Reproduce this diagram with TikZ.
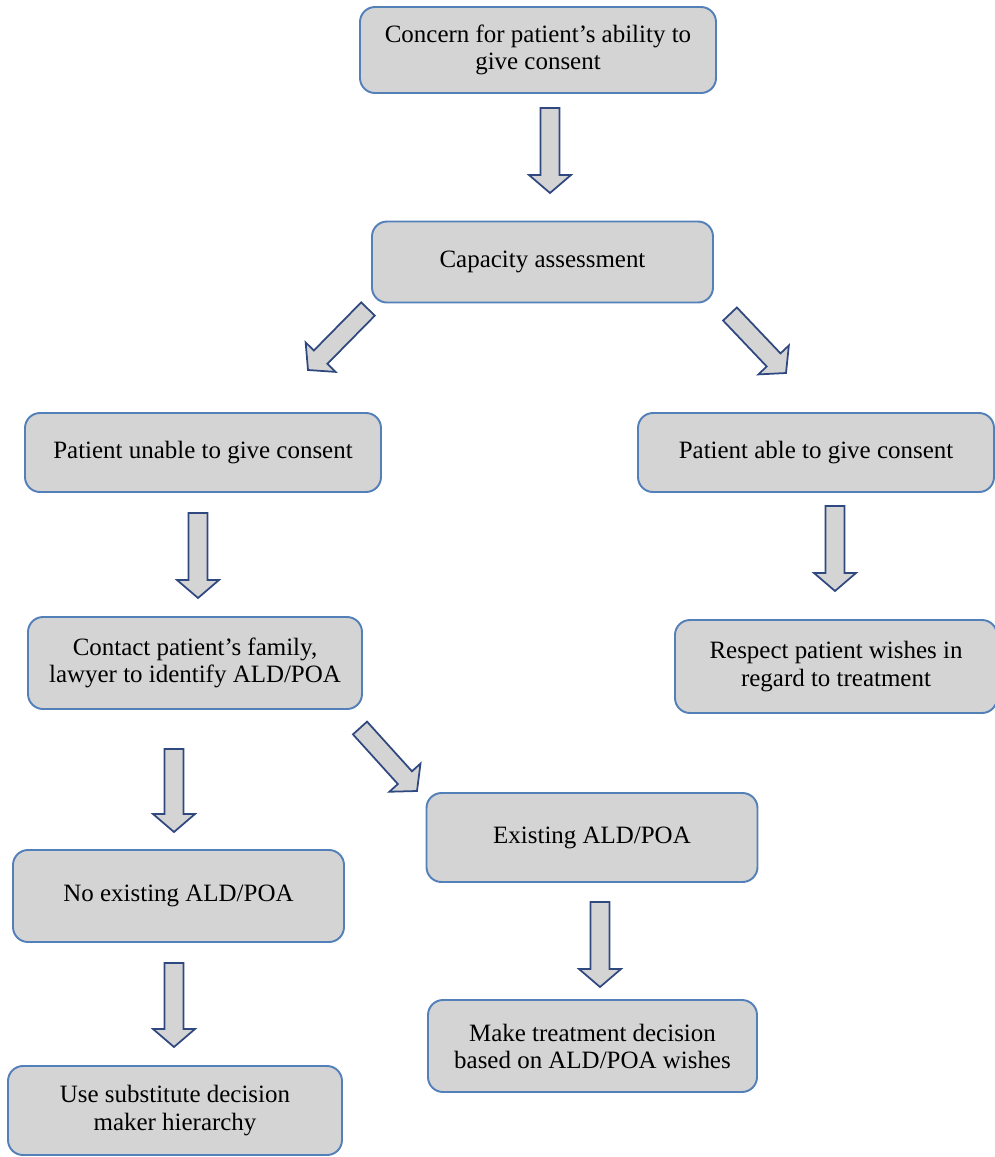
\documentclass[tikz,border=0pt]{standalone}
\usepackage{fontspec}
\setmainfont{Liberation Serif}
\usetikzlibrary{calc}

\definecolor{boxline}{RGB}{84,128,186}
\definecolor{boxfill}{RGB}{212,212,212}
\definecolor{arrline}{RGB}{48,72,128}

% block arrow from #1 (tail) to #2 (tip)
\newcommand{\blockarr}[2]{%
  \draw[barrow] let \p1=($(#2)-(#1)$), \n1={atan2(\y1,\x1)} in
    ($(#1)+({\n1+90}:0.19)$) -- ($(#2)+({\n1+180}:0.36)+({\n1+90}:0.19)$)
    -- ($(#2)+({\n1+180}:0.36)+({\n1+90}:0.42)$) -- (#2)
    -- ($(#2)+({\n1+180}:0.36)+({\n1-90}:0.42)$)
    -- ($(#2)+({\n1+180}:0.36)+({\n1-90}:0.19)$)
    -- ($(#1)+({\n1-90}:0.19)$) -- cycle;}

\begin{document}
\begin{tikzpicture}[
    stepbox/.style={draw=boxline, fill=boxfill, line width=1.1pt, rounded corners=0.3cm,
                    align=center, inner sep=0pt, font=\fontsize{14.2}{15.4}\selectfont},
    barrow/.style={draw=arrline, fill=boxfill, line width=1pt, line join=miter}
  ]
  \useasboundingbox (0,0) rectangle (19.9,-23.14);

  % boxes
  \node[stepbox, minimum width=7.12cm, minimum height=1.72cm] (concern) at (10.76,-1.0)
       {Concern for patient’s ability to\\give consent};
  \node[stepbox, minimum width=6.82cm, minimum height=1.62cm] (capacity) at (10.85,-5.24)
       {Capacity assessment};
  \node[stepbox, minimum width=7.12cm, minimum height=1.58cm] (unable) at (4.06,-9.05)
       {Patient unable to give consent};
  \node[stepbox, minimum width=7.12cm, minimum height=1.58cm] (able) at (16.32,-9.05)
       {Patient able to give consent};
  \node[stepbox, minimum width=6.68cm, minimum height=1.84cm] (contact) at (3.9,-13.26)
       {Contact patient’s family,\\lawyer to identify ALD/POA};
  \node[stepbox, minimum width=6.44cm, minimum height=1.86cm] (respect) at (16.72,-13.33)
       {Respect patient wishes in\\regard to treatment};
  \node[stepbox, minimum width=6.62cm, minimum height=1.78cm] (existing) at (11.84,-16.75)
       {Existing ALD/POA};
  \node[stepbox, minimum width=6.62cm, minimum height=1.84cm] (noexist) at (3.57,-17.92)
       {No existing ALD/POA};
  \node[stepbox, minimum width=6.58cm, minimum height=1.84cm] (make) at (11.85,-20.92)
       {Make treatment decision\\based on ALD/POA wishes};
  \node[stepbox, minimum width=6.68cm, minimum height=1.78cm] (use) at (3.5,-22.21)
       {Use substitute decision\\maker hierarchy};

  % arrow ends
  \coordinate (a1s) at (11.0,-2.16);   \coordinate (a1e) at (11.0,-3.86);
  \coordinate (a2s) at (7.36,-6.18);   \coordinate (a2e) at (6.16,-7.40);
  \coordinate (a3s) at (14.6,-6.28);   \coordinate (a3e) at (15.72,-7.46);
  \coordinate (a4s) at (3.96,-10.26);  \coordinate (a4e) at (3.96,-11.96);
  \coordinate (a5s) at (16.7,-10.12);  \coordinate (a5e) at (16.7,-11.82);
  \coordinate (a6s) at (3.48,-14.98);  \coordinate (a6e) at (3.48,-16.64);
  \coordinate (a7s) at (7.2,-14.56);   \coordinate (a7e) at (8.34,-15.82);
  \coordinate (a8s) at (12.0,-18.04);  \coordinate (a8e) at (12.0,-19.74);
  \coordinate (a9s) at (3.48,-19.26);  \coordinate (a9e) at (3.48,-20.94);

  \blockarr{a1s}{a1e}
  \blockarr{a2s}{a2e}
  \blockarr{a3s}{a3e}
  \blockarr{a4s}{a4e}
  \blockarr{a5s}{a5e}
  \blockarr{a6s}{a6e}
  \blockarr{a7s}{a7e}
  \blockarr{a8s}{a8e}
  \blockarr{a9s}{a9e}
\end{tikzpicture}
\end{document}
